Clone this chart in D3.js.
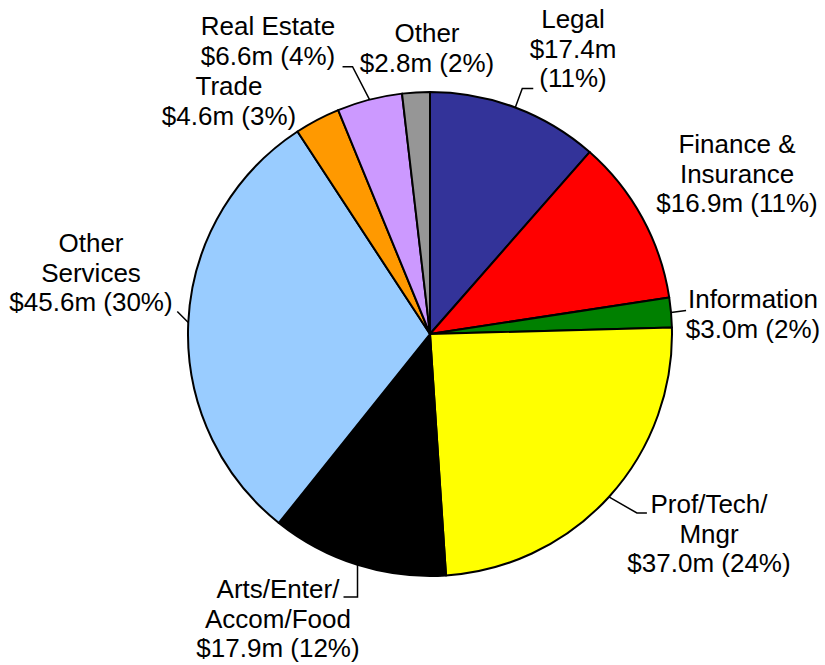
<!DOCTYPE html>
<html>
<head>
  <meta charset="utf-8">
  <title>Pie</title>
  <style>
    body { margin: 0; background: #fff; }
    svg text { font-family: "Liberation Sans", Arial, sans-serif; font-size: 26px; fill: #000; }
  </style>
</head>
<body>
  <div id="chart"></div>
  <script src="https://d3js.org/d3.v7.min.js"></script>
  <script>
    // data, clockwise from 12 o'clock
    const categories = ["Legal", "Finance & Insurance", "Information", "Prof/Tech/Mngr",
      "Arts/Enter/Accom/Food", "Other Services", "Trade", "Real Estate", "Other"];
    const values = [17.4, 16.9, 3.0, 37.0, 17.9, 45.6, 4.6, 6.6, 2.8];
    const colors = ["#333399", "#ff0000", "#008000", "#ffff00", "#000000",
      "#99ccff", "#ff9900", "#cc99ff", "#969696"];
    // how the category name breaks onto lines
    const nameLines = [["Legal"], ["Finance &", "Insurance"], ["Information"], ["Prof/Tech/", "Mngr"],
      ["Arts/Enter/", "Accom/Food"], ["Other", "Services"], ["Trade"], ["Real Estate"], ["Other"]];
    const splitValue = [true, false, false, false, false, false, false, false, false];

    // label layout: centre x, first baseline, leader offsets from the arc point
    const labelPos = [
      { x: 573, y: 28, leader: [[7, -19], [18, -19]] },
      { x: 737, y: 153, leader: null },
      { x: 753, y: 308, leader: [[15, -2]] },
      { x: 709, y: 513, leader: [[28, 16], [38, 16]] },
      { x: 278, y: 598, leader: [[0, 32], [-14, 32]] },
      { x: 91, y: 252, leader: [[-11, -11]] },
      { x: 229, y: 95, leader: null },
      { x: 268, y: 35, leader: [[-17, -33], [-27, -33]] },
      { x: 427, y: 42, leader: null }
    ];

    const width = 825, height = 665;
    const cx = 430, cy = 334, radius = 242, lineH = 29.7;

    const total = d3.sum(values);
    const data = values.map((v, i) => ({ name: categories[i], value: v, color: colors[i], i }));

    const svg = d3.select("#chart").append("svg")
      .attr("width", width)
      .attr("height", height);

    const pie = d3.pie().value(d => d.value).sort(null);
    const arc = d3.arc().innerRadius(0).outerRadius(radius);
    const arcs = pie(data);

    const g = svg.append("g").attr("transform", `translate(${cx},${cy})`);

    g.selectAll("path.slice")
      .data(arcs)
      .join("path")
      .attr("class", "slice")
      .attr("d", arc)
      .attr("fill", d => d.data.color)
      .attr("stroke", "#000")
      .attr("stroke-width", 2)
      .attr("stroke-linejoin", "round");

    // leader lines
    arcs.forEach((a, i) => {
      const lp = labelPos[i];
      if (!lp.leader) return;
      const mid = (a.startAngle + a.endAngle) / 2;
      const sx = cx + radius * Math.sin(mid);
      const sy = cy - radius * Math.cos(mid);
      const pts = [[sx, sy]].concat(lp.leader.map(o => [sx + o[0], sy + o[1]]));
      svg.append("path")
        .attr("d", d3.line()(pts))
        .attr("fill", "none")
        .attr("stroke", "#000")
        .attr("stroke-width", 1.5);
    });

    // labels
    arcs.forEach((a, i) => {
      const v = values[i];
      const pct = Math.round(v / total * 100);
      const valTxt = `$${v.toFixed(1)}m`;
      const pctTxt = `(${pct}%)`;
      const lines = nameLines[i].slice();
      if (splitValue[i]) { lines.push(valTxt, pctTxt); } else { lines.push(`${valTxt} ${pctTxt}`); }
      const lp = labelPos[i];
      const t = svg.append("text")
        .attr("text-anchor", "middle");
      lines.forEach((ln, k) => {
        t.append("tspan")
          .attr("x", lp.x)
          .attr("y", lp.y + k * lineH)
          .text(ln);
      });
    });
  </script>
</body>
</html>
